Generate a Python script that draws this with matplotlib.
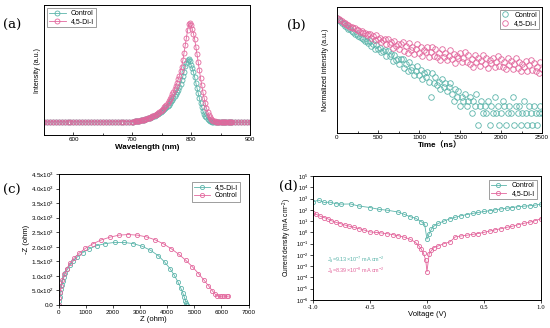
import numpy as np
import matplotlib
matplotlib.use("Agg")
from matplotlib import pyplot as plt
from matplotlib.ticker import FuncFormatter, LogLocator, NullLocator, MultipleLocator

plt.rcParams['font.family'] = ['Liberation Sans', 'DejaVu Sans']
plt.rcParams['mathtext.default'] = 'regular'

TEAL = '#5cb5ab'
PINK = '#e3679d'

# ---------------- (a) PL spectra ----------------
pl_wl_left = np.arange(550, 700, 5)      # 550..695
pl_wl_mid = np.arange(700, 871, 2)       # 700..870
pl_wl_right = np.arange(875, 901, 5)     # 875..900

pl_ctrl_left = [0.002, 0.002, 0.002, 0.002, 0.002, 0.002, 0.002, 0.002, 0.002, 0.002,
                0.002, 0.002, 0.002, 0.002, 0.002, 0.002, 0.002, 0.002, 0.002, 0.002,
                0.002, 0.002, 0.002, 0.002, 0.003, 0.003, 0.003, 0.003, 0.004, 0.004]
pl_ctrl_mid = [0.005, 0.006, 0.007, 0.008, 0.010, 0.012, 0.014, 0.017, 0.019, 0.022,
               0.025, 0.029, 0.033, 0.037, 0.041, 0.045, 0.050, 0.055, 0.060, 0.065,
               0.070, 0.078, 0.086, 0.094, 0.102, 0.110, 0.120, 0.130, 0.140, 0.150,
               0.160, 0.176, 0.192, 0.208, 0.224, 0.240, 0.260, 0.280, 0.302, 0.326,
               0.350, 0.385, 0.420, 0.460, 0.505, 0.560, 0.595, 0.625, 0.632, 0.610,
               0.570, 0.540, 0.500, 0.450, 0.395, 0.340, 0.290, 0.240, 0.190, 0.150,
               0.110, 0.085, 0.065, 0.048, 0.032, 0.018, 0.012, 0.008, 0.005, 0.003,
               0.001, 0.0, 0.0, 0.0, 0.0, 0.0, 0.0, 0.0, 0.0, 0.0,
               0.0, 0.0, 0.0, 0.0, 0.0, 0.0]
pl_ctrl_right = [0.0, 0.0, 0.0, 0.0, 0.0, 0.0]

pl_diI_left = [0.002, 0.002, 0.002, 0.002, 0.002, 0.002, 0.002, 0.002, 0.002, 0.002,
               0.002, 0.002, 0.002, 0.002, 0.002, 0.002, 0.002, 0.002, 0.002, 0.002,
               0.002, 0.002, 0.002, 0.002, 0.003, 0.003, 0.003, 0.003, 0.004, 0.004]
pl_diI_mid = [0.005, 0.006, 0.007, 0.008, 0.010, 0.012, 0.014, 0.017, 0.019, 0.022,
              0.025, 0.029, 0.033, 0.037, 0.041, 0.045, 0.051, 0.057, 0.063, 0.069,
              0.075, 0.084, 0.093, 0.102, 0.111, 0.120, 0.134, 0.148, 0.162, 0.176,
              0.190, 0.212, 0.234, 0.256, 0.278, 0.300, 0.332, 0.364, 0.396, 0.428,
              0.460, 0.508, 0.556, 0.620, 0.695, 0.770, 0.845, 0.920, 0.985, 0.995,
              0.970, 0.930, 0.885, 0.830, 0.755, 0.680, 0.600, 0.520, 0.440, 0.370,
              0.300, 0.245, 0.190, 0.140, 0.105, 0.075, 0.052, 0.035, 0.024, 0.015,
              0.010, 0.006, 0.004, 0.002, 0.001, 0.001, 0.0, 0.0, 0.0, 0.0,
              0.0, 0.0, 0.0, 0.0, 0.0, 0.0]
pl_diI_right = [0.0, 0.0, 0.0, 0.0, 0.0, 0.0]

# ---------------- (b) TRPL decay (counts) ----------------
trpl_time = np.arange(0, 2501, 20)
trpl_ctrl = [470, 430, 395, 355, 335, 298, 285, 258, 245, 218,
             212, 190, 184, 165, 163, 146, 143, 128, 127, 114,
             123, 95, 104, 80, 101, 79, 85, 65, 70, 74,
             54, 70, 52, 58, 40, 56, 43, 44, 33, 44,
             45, 27, 34, 22, 38, 24, 29, 18, 23, 30,
             18, 24, 14, 20, 16, 21, 12, 5, 20, 11,
             16, 10, 12, 8, 14, 9, 11, 7, 9, 11,
             6, 4, 8, 5, 7, 3, 5, 4, 6, 3,
             4, 5, 2, 4, 3, 6, 1, 3, 4, 2,
             3, 2, 4, 1, 3, 2, 5, 2, 3, 1,
             2, 4, 3, 1, 2, 3, 2, 5, 1, 3,
             2, 3, 1, 2, 4, 2, 1, 3, 2, 1,
             3, 2, 1, 2, 3, 2]
trpl_diI = [480, 455, 415, 400, 365, 355, 325, 318, 290, 290,
            262, 262, 236, 240, 214, 220, 196, 205, 180, 188,
            193, 152, 171, 133, 175, 139, 152, 120, 131, 141,
            105, 139, 106, 122, 86, 126, 97, 105, 80, 109,
            116, 71, 93, 63, 111, 75, 91, 59, 78, 103,
            64, 88, 52, 77, 66, 88, 51, 66, 90, 52,
            78, 49, 63, 41, 78, 51, 64, 41, 54, 74,
            44, 61, 36, 54, 46, 62, 37, 47, 65, 37,
            55, 34, 45, 29, 57, 37, 47, 30, 40, 55,
            33, 47, 27, 42, 35, 48, 29, 37, 52, 30,
            45, 28, 37, 25, 46, 31, 39, 25, 33, 46,
            27, 38, 22, 34, 29, 39, 23, 31, 42, 24,
            36, 23, 29, 20, 38, 25]

# ---------------- (c) Nyquist ----------------
eis_diI_re = [0, 15, 30, 50, 75, 105, 140, 185, 240, 310, 400, 520, 680, 880, 1120,
              1400, 1720, 2060, 2400, 2740, 3070, 3380, 3660, 3900, 4100, 4260, 4390,
              4490, 4570, 4630, 4670, 4700, 4720]
eis_diI_im = [0, 150, 280, 420, 560, 700, 830, 960, 1090, 1220, 1360, 1500, 1650, 1800, 1930,
              2040, 2110, 2150, 2150, 2110, 2020, 1880, 1700, 1480, 1250, 1020, 800,
              600, 420, 270, 150, 60, 0]
eis_ctrl_re = [0, 20, 45, 80, 130, 200, 290, 410, 560, 750, 980, 1250, 1550, 1880, 2220,
               2560, 2900, 3230, 3550, 3860, 4150, 4430, 4690, 4930, 5150, 5350, 5520,
               5660, 5770, 5850, 5930, 6020, 6110, 6200, 6250]
eis_ctrl_im = [0, 250, 450, 650, 850, 1050, 1250, 1430, 1600, 1780, 1950, 2100, 2230, 2330, 2400,
               2420, 2400, 2340, 2240, 2100, 1930, 1740, 1530, 1310, 1080, 860, 660,
               490, 370, 310, 300, 300, 310, 300, 300]

# ---------------- (d) dark J-V ----------------
jv_ctrl_v = [-1.0, -0.95, -0.9, -0.85, -0.8, -0.75, -0.67, -0.6, -0.5, -0.42,
             -0.35, -0.25, -0.2, -0.15, -0.1, -0.05, -0.02, 0.0, 0.02, 0.04,
             0.06, 0.1, 0.15, 0.2, 0.25, 0.3, 0.35, 0.4, 0.45, 0.5,
             0.55, 0.6, 0.65, 0.7, 0.75, 0.8, 0.85, 0.9, 0.95, 1.0]
jv_ctrl_j = [5.2e2, 7.1e2, 4.5e2, 4.8e2, 3.5e2, 3.2e2, 3.3e2, 2.2e2, 1.6e2, 1.1e2,
             9.3e1, 6.3e1, 4.0e1, 2.5e1, 1.8e1, 8.9, 5.2, 2.5e-1, 7.9e-1, 2.0,
             3.5, 6.3, 1.0e1, 1.6e1, 2.2e1, 3.0e1, 3.8e1, 4.8e1, 5.8e1, 7.1e1,
             8.3e1, 1.0e2, 1.2e2, 1.4e2, 1.6e2, 1.9e2, 2.1e2, 2.3e2, 2.6e2, 3.2e2]
jv_diI_v = [-1.0, -0.97, -0.94, -0.9, -0.87, -0.84, -0.8, -0.76, -0.72, -0.68,
            -0.64, -0.6, -0.55, -0.5, -0.45, -0.4, -0.35, -0.3, -0.25, -0.2,
            -0.15, -0.1, -0.07, -0.05, -0.03, -0.01, 0.0, 0.02, 0.04, 0.06,
            0.1, 0.15, 0.2, 0.25, 0.3, 0.35, 0.4, 0.45, 0.5, 0.55,
            0.6, 0.65, 0.7, 0.75, 0.8, 0.85, 0.9, 0.95, 1.0]
jv_diI_j = [4.8e1, 4.0e1, 2.8e1, 2.0e1, 1.6e1, 1.1e1, 7.9, 6.0, 4.5, 3.5,
            2.8, 2.2, 1.6, 1.1, 1.0, 8.9e-1, 7.6e-1, 6.3e-1, 5.0e-1, 3.8e-1,
            2.5e-1, 1.3e-1, 6.3e-2, 3.2e-2, 1.4e-2, 3.2e-3, 3.2e-4, 1.3e-2, 2.5e-2, 4.5e-2,
            6.3e-2, 1.0e-1, 1.4e-1, 4.0e-1, 4.8e-1, 5.6e-1, 6.6e-1, 7.9e-1, 1.0, 1.3,
            1.7, 2.1, 2.8, 3.5, 4.8, 6.3, 7.9, 1.1e1, 1.6e1]


def style_axes(ax, direction, size=4.5):
    for s in ax.spines.values():
        s.set_linewidth(0.7)
    ax.tick_params(which='both', direction=direction, labelsize=size, width=0.5, pad=1.5)
    ax.tick_params(which='major', length=2)
    ax.tick_params(which='minor', length=1.2)


def sci_fmt(v, pos):
    if v == 0:
        return '0.0'
    e = int(np.floor(np.log10(v) + 1e-9))
    m = v / 10 ** e
    return f'{m:.1f}x10$^{{{e}}}$'


def small_legend(ax, loc, hl, pad):
    leg = ax.legend(loc=loc, fontsize=5, frameon=True, fancybox=False, edgecolor='#555555',
                    handlelength=hl, borderpad=0.3, labelspacing=0.15, borderaxespad=pad)
    leg.get_frame().set_linewidth(0.5)


fig = plt.figure(figsize=(5.5, 3.28), dpi=100)

# (a)
ax = fig.add_axes([0.080, 0.588, 0.3745, 0.396])
wl = np.concatenate([pl_wl_left, pl_wl_mid, pl_wl_right])
ctrl = np.concatenate([pl_ctrl_left, pl_ctrl_mid, pl_ctrl_right])
diI = np.concatenate([pl_diI_left, pl_diI_mid, pl_diI_right])
ax.plot(wl, ctrl, '-o', color=TEAL, lw=0.6, ms=3.6, mfc='none', mew=0.6, label='Control')
ax.plot(wl, diI, '-o', color=PINK, lw=0.6, ms=3.6, mfc='none', mew=0.6, label='4,5-Di-I')
ax.set_xlim(550, 900)
ax.set_ylim(-0.13, 1.17)
ax.set_yticks([])
ax.set_xticks([600, 700, 800, 900])
ax.xaxis.set_minor_locator(MultipleLocator(50))
style_axes(ax, 'in')
ax.set_xlabel('Wavelength (nm)', fontsize=5.8, fontweight='bold', labelpad=1)
ax.set_ylabel('Intensity (a.u.)', fontsize=5, labelpad=2)
small_legend(ax, 'upper left', 2.4, 0.4)

# (b)
ax = fig.add_axes([0.6127, 0.5945, 0.373, 0.384])
ax.plot(trpl_time, trpl_ctrl, 'o', color=TEAL, ms=4, mfc='none', mew=0.6, label='Control')
ax.plot(trpl_time, trpl_diI, 'o', color=PINK, ms=4, mfc='none', mew=0.6, label='4,5-Di-I')
ax.set_yscale('log')
ax.set_xlim(0, 2500)
ax.set_ylim(0.63, 890)
ax.yaxis.set_major_locator(NullLocator())
ax.yaxis.set_minor_locator(NullLocator())
ax.set_xticks([0, 500, 1000, 1500, 2000, 2500])
ax.xaxis.set_minor_locator(MultipleLocator(250))
style_axes(ax, 'in')
ax.set_xlabel('Time（ns）', fontsize=5.8, fontweight='bold', labelpad=1,
              family=['Liberation Sans', 'Noto Sans CJK SC'])
ax.set_ylabel('Normalized intensity (a.u.)', fontsize=5, labelpad=6)
small_legend(ax, 'upper right', 1.0, 0.4)

# (c)
ax = fig.add_axes([0.107, 0.0701, 0.345, 0.3994])
ax.plot(eis_diI_re, eis_diI_im, '-o', color=TEAL, lw=0.6, ms=3, mfc='none', mew=0.6, label='4,5-Di-I')
ax.plot(eis_ctrl_re, eis_ctrl_im, '-o', color=PINK, lw=0.6, ms=3, mfc='none', mew=0.6, label='Control')
ax.set_xlim(0, 7000)
ax.set_ylim(0, 4500)
ax.set_xticks(np.arange(0, 7001, 1000))
ax.set_yticks(np.arange(0, 4501, 500))
ax.yaxis.set_major_formatter(FuncFormatter(sci_fmt))
style_axes(ax, 'out')
ax.set_xlabel('Z (ohm)', fontsize=5.5, labelpad=1)
ax.set_ylabel('-Z (ohm)', fontsize=5.5, labelpad=1)
small_legend(ax, 'upper right', 2.2, 1.2)

# (d)
ax = fig.add_axes([0.569, 0.0854, 0.4145, 0.378])
ax.plot(jv_ctrl_v, jv_ctrl_j, '-o', color=TEAL, lw=0.6, ms=3, mfc='none', mew=0.6, label='Control')
ax.plot(jv_diI_v, jv_diI_j, '-o', color=PINK, lw=0.6, ms=3, mfc='none', mew=0.6, label='4,5-Di-I')
ax.set_yscale('log')
ax.set_xlim(-1.0, 1.0)
ax.set_ylim(1e-6, 1e5)
ax.yaxis.set_major_locator(LogLocator(base=10, numticks=20))
ax.yaxis.set_minor_locator(NullLocator())
ax.set_xticks([-1.0, -0.5, 0.0, 0.5, 1.0])
ax.set_xticklabels(['-1.0', '-0.5', '0.0', '0.5', '1.0'], family='DejaVu Serif')
style_axes(ax, 'out', 4)
ax.set_xlabel('Voltage (V)', fontsize=5.5, labelpad=1)
ax.set_ylabel('Current density (mA cm$^{-2}$)', fontsize=4.8, labelpad=1)
ax.text(-0.88, 10 ** -2.45, '$J_d$=9.13×10$^{-7}$ mA cm$^{-2}$', color=TEAL, fontsize=4, va='center')
ax.text(-0.88, 10 ** -3.4, '$J_d$=8.39×10$^{-8}$ mA cm$^{-2}$', color=PINK, fontsize=4, va='center')
small_legend(ax, 'upper right', 2.2, 0.6)

# panel letters
for x, y, s in [(0.005, 0.923, '(a)'), (0.522, 0.923, '(b)'), (0.005, 0.418, '(c)'), (0.507, 0.432, '(d)')]:
    fig.text(x, y, s, fontsize=9.5, family='DejaVu Serif', va='center')

fig.savefig('out.png', dpi=100)
